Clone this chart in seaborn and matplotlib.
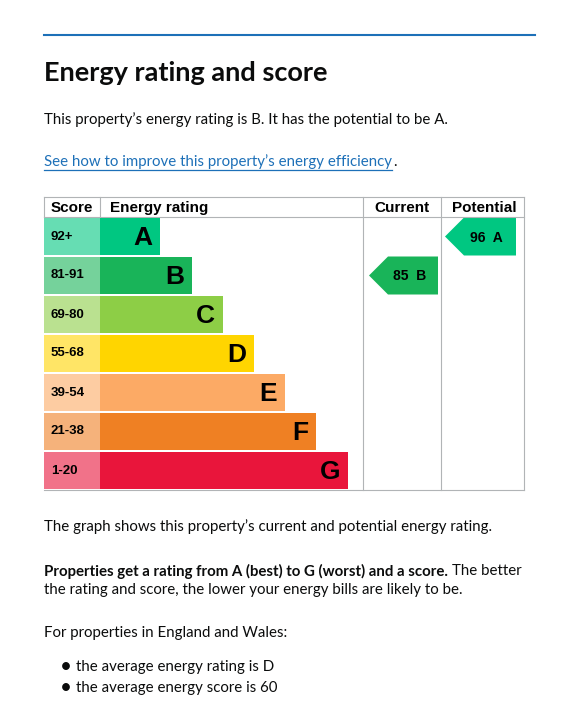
import matplotlib.pyplot as plt
import matplotlib.patches as mpatches
import seaborn as sns
import pandas as pd

bands = ['A', 'B', 'C', 'D', 'E', 'F', 'G']
score_ranges = ['92+', '81-91', '69-80', '55-68', '39-54', '21-38', '1-20']
bar_lengths = [60, 92, 123, 154, 185, 216, 248]
band_colors = ['#00c781', '#19b459', '#8dce46', '#ffd500', '#fcaa65', '#ef8023', '#e9153b']
current_score, current_band = 85, 'B'
potential_score, potential_band = 96, 'A'

W, H = 569, 714
fig = plt.figure(figsize=(W / 100, H / 100), dpi=100)
ax = fig.add_axes([0, 0, 1, 1])
ax.set_xlim(0, W)
ax.set_ylim(H, 0)
ax.axis('off')

body = 'Lato'
dark = '#0b0c0c'
fs = 10.8


def right_edge(t):
    fig.canvas.draw()
    bb = t.get_window_extent()
    return ax.transData.inverted().transform((bb.x1, 0))[0]


ax.plot([44, 535], [35, 35], color='#1d70b8', lw=1.5)
ax.text(44, 73, 'Energy rating and score', fontsize=19.5, fontweight='bold', family=body, color=dark, va='center')
ax.text(44, 120, "This property\u2019s energy rating is B. It has the potential to be A.", fontsize=fs, family=body, color=dark, va='center')
link = ax.text(44, 162, "See how to improve this property\u2019s energy efficiency", fontsize=fs, family=body, color='#1d70b8', va='center')
xe = right_edge(link)
ax.plot([44, xe], [170, 170], color='#1d70b8', lw=0.9)
ax.text(xe + 1, 162, '.', fontsize=fs, family=body, color=dark, va='center')

# table frame
top, head_h, row_h = 197, 20, 39
bottom = top + head_h + row_h * 7
grid = '#b1b4b6'
ax.plot([44, 524], [top, top], color=grid, lw=0.8)
ax.plot([44, 524], [top + head_h, top + head_h], color=grid, lw=0.8)
ax.plot([44, 524], [bottom, bottom], color=grid, lw=0.8)
for x in [363, 441, 524]:
    ax.plot([x, x], [top, bottom], color=grid, lw=0.8)
ax.plot([44, 44], [top, top + head_h], color=grid, lw=0.8)
ax.plot([100, 100], [top, top + head_h], color=grid, lw=0.8)
tbl = 'Liberation Sans'
hy = top + head_h / 2 + 1
ax.text(51, hy, 'Score', fontsize=11, fontweight='bold', family=tbl, va='center')
ax.text(110, hy, 'Energy rating', fontsize=11, fontweight='bold', family=tbl, va='center')
ax.text(402, hy, 'Current', fontsize=11, fontweight='bold', family=tbl, va='center', ha='center')
ax.text(484, hy, 'Potential', fontsize=11, fontweight='bold', family=tbl, va='center', ha='center')

# score cells
for i, (rng, col) in enumerate(zip(score_ranges, band_colors)):
    y0 = top + head_h + i * row_h
    ax.add_patch(mpatches.Rectangle((44, y0 + 1), 56, row_h - 2, color=col, alpha=0.6, lw=0))
    ax.text(51, y0 + row_h / 2, rng, fontsize=9.5, fontweight='bold', family=tbl, va='center')

# bars with seaborn
bax = fig.add_axes([100 / W, 1 - bottom / H, 263 / W, (row_h * 7) / H])
df = pd.DataFrame({'band': bands, 'length': bar_lengths})
sns.barplot(data=df, x='length', y='band', hue='band', palette=band_colors, orient='h',
            width=0.95, ax=bax, legend=False, saturation=1)
bax.set_xlim(0, 263)
bax.set_ylim(6.5, -0.5)
bax.axis('off')
for i, (b, L) in enumerate(zip(bands, bar_lengths)):
    bax.text(L - 8, i + 0.05, b, fontsize=19, fontweight='bold', family=tbl, ha='right', va='center')


def arrow(x0, x1, band, score, col):
    i = bands.index(band)
    yc = top + head_h + i * row_h + row_h / 2
    h = 19
    pts = [(x0, yc), (x0 + 19, yc - h), (x1, yc - h), (x1, yc + h), (x0 + 19, yc + h)]
    ax.add_patch(mpatches.Polygon(pts, closed=True, color=col, lw=0))
    ax.text((x0 + x1) / 2 + 6, yc + 1, f'{score}  {band}', fontsize=10, fontweight='bold', family=tbl, ha='center', va='center')


arrow(369, 438, current_band, current_score, band_colors[bands.index(current_band)])
arrow(445, 516, potential_band, potential_score, band_colors[bands.index(potential_band)])

ax.text(44, 527, "The graph shows this property\u2019s current and potential energy rating.", fontsize=fs, family=body, color=dark, va='center')
t = ax.text(44, 571, 'Properties get a rating from A (best) to G (worst) and a score.', fontsize=fs, fontweight='bold', family=body, color=dark, va='center')
ax.text(right_edge(t) + 4, 571, 'The better', fontsize=fs, family=body, color=dark, va='center')
ax.text(44, 590, 'the rating and score, the lower your energy bills are likely to be.', fontsize=fs, family=body, color=dark, va='center')
ax.text(44, 633, 'For properties in England and Wales:', fontsize=fs, family=body, color=dark, va='center')
for y, s in [(667, 'the average energy rating is D'), (688, 'the average energy score is 60')]:
    ax.text(60, y, '\u2022', fontsize=15, family=body, color=dark, va='center')
    ax.text(76, y, s, fontsize=fs, family=body, color=dark, va='center')

fig.savefig('out.png', dpi=100)
